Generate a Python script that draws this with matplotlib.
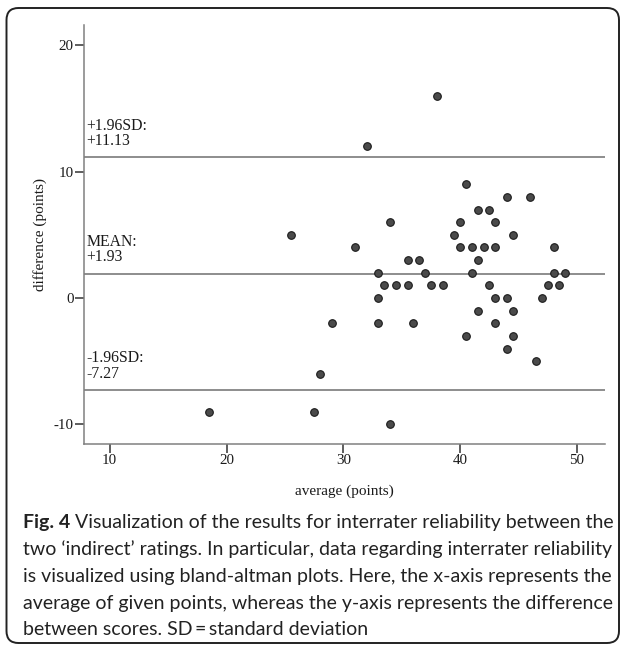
import matplotlib
matplotlib.use("Agg")
import matplotlib.pyplot as plt
from matplotlib.patches import FancyBboxPatch

# punkty z wykresu bland-altman (srednia, roznica)
srednia = [18.5, 25.5, 27.5, 28, 29, 31, 32, 33, 33, 33, 33.5, 34, 34, 34.5,
           35.5, 35.5, 36, 36.5, 37, 37.5, 38, 38.5, 39.5, 40, 40, 40.5, 40.5,
           41, 41, 41.5, 41.5, 41.5, 42, 42.5, 42.5, 43, 43, 43, 43, 44, 44,
           44, 44.5, 44.5, 44.5, 46, 46.5, 47, 47.5, 48, 48, 48.5, 49]
roznica = [-9, 5, -9, -6, -2, 4, 12, 2, 0, -2, 1, 6, -10, 1,
           3, 1, -2, 3, 2, 1, 16, 1, 5, 6, 4, 9, -3,
           4, 2, 7, 3, -1, 4, 7, 1, 6, 4, 0, -2, 8, 0,
           -4, 5, -1, -3, 8, -5, 0, 1, 4, 2, 1, 2]

linie = [11.13, 1.93, -7.27]
opisy = ["+1.96SD:\n+11.13", "MEAN:\n+1.93", "-1.96SD:\n-7.27"]

xTicks = [10, 20, 30, 40, 50]
yTicks = [-10, 0, 10, 20]

podpis = [
    "two \u2018indirect\u2019 ratings. In particular, data regarding interrater reliability",
    "is visualized using bland-altman plots. Here, the x-axis represents the",
    "average of given points, whereas the y-axis represents the difference",
    "between scores. SD\u2009=\u2009standard deviation",
]
podpisPierwszy = " Visualization of the results for interrater reliability between the"

W, H = 624, 647
fig = plt.figure(figsize=(W / 100, H / 100), dpi=100)
ax = fig.add_axes([84 / W, 1 - 444 / H, (605 - 84) / W, (444 - 25) / H])

serif = "Liberation Serif"

for y in linie:
    ax.axhline(y, color="#858585", linewidth=1.3, zorder=1)

ax.scatter(srednia, roznica, s=30, color="#4a4a4a", edgecolors="#1a1a1a",
           linewidths=0.8, zorder=3)

for y, t in zip(linie, opisy):
    ax.annotate(t, xy=(0.004, y), xycoords=("axes fraction", "data"),
                xytext=(0, 6), textcoords="offset points", ha="left", va="bottom",
                fontsize=11.3, family=serif, linespacing=0.95, color="#1a1a1a")

ax.set_xlim(7.8, 52.4)
ax.set_ylim(-11.55, 21.6)
ax.set_xticks(xTicks)
ax.set_yticks(yTicks)
ax.set_xticklabels([str(v) for v in xTicks], family=serif, fontsize=10.8)
ax.set_yticklabels([str(v) for v in yTicks], family=serif, fontsize=10.8)
ax.tick_params(direction="out", length=6.5, width=1.1, color="#333333",
               pad=1, labelcolor="#1a1a1a")

for s in ["top", "right"]:
    ax.spines[s].set_visible(False)
for s in ["left", "bottom"]:
    ax.spines[s].set_color("#808080")
    ax.spines[s].set_linewidth(1.1)

ax.set_xlabel("average (points)", family=serif, fontsize=11, labelpad=12,
              color="#1a1a1a")
ax.set_ylabel("difference (points)", family=serif, fontsize=11, labelpad=5,
              color="#1a1a1a")

# ramka wokol calosci
ramka = FancyBboxPatch((0.065, 0.04), 6.125, 6.35,
                       boxstyle="round,pad=0,rounding_size=0.12",
                       transform=fig.dpi_scale_trans, fill=False,
                       edgecolor="#222222", linewidth=1.4)
fig.patches.append(ramka)

# podpis pod wykresem
sans = "Lato"
rozmiar = 14
wiersze = [522.7, 549.5, 576.3, 603.0, 629.8]
pogrub = fig.text(22.7 / W, 1 - wiersze[0] / H, "Fig. 4", family=sans,
                  fontweight="bold", fontsize=rozmiar, va="center", ha="left",
                  color="#222222")
fig.canvas.draw()
ax.annotate(podpisPierwszy, xy=(1, 0.5), xycoords=pogrub, va="center",
            ha="left", family=sans, fontsize=rozmiar, color="#222222",
            annotation_clip=False)
for py, t in zip(wiersze[1:], podpis):
    fig.text(22.7 / W, 1 - py / H, t, family=sans, fontsize=rozmiar,
             va="center", ha="left", color="#222222")

fig.savefig("out.png", dpi=100)
